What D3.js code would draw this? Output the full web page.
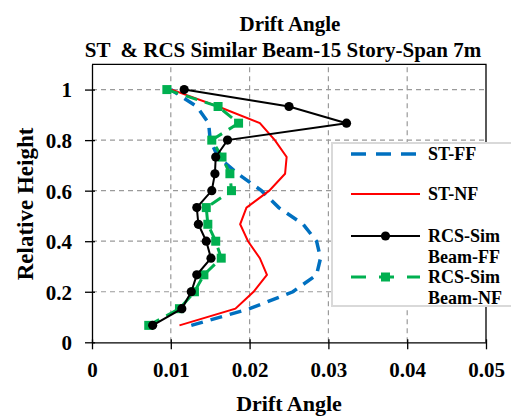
<!DOCTYPE html>
<html><head><meta charset="utf-8">
<script src="https://cdn.jsdelivr.net/npm/d3@7"></script>
<style>body{margin:0;background:#fff}svg{display:block}text{font-family:"Liberation Serif","Times New Roman",serif;font-weight:bold;fill:#000}</style>
</head><body>
<script>
const relHeight = [0.067,0.133,0.2,0.267,0.333,0.4,0.467,0.533,0.6,0.667,0.733,0.8,0.867,0.933,1.0];
const stFF  = [0.0126,0.0200,0.0255,0.0285,0.0290,0.0285,0.0268,0.0237,0.0215,0.0185,0.0160,0.0150,0.0148,0.0133,0.0100];
const stNF  = [0.0111,0.0182,0.0205,0.0222,0.0213,0.0198,0.0188,0.0196,0.0225,0.0245,0.0247,0.0232,0.0213,0.0160,0.0101];
const rcsFF = [0.0077,0.0114,0.0126,0.0133,0.0151,0.0145,0.0135,0.0133,0.0152,0.0156,0.0157,0.0172,0.0323,0.0250,0.0117];
const rcsNF = [0.0072,0.0111,0.0130,0.0142,0.0164,0.0157,0.0147,0.0145,0.0177,0.0175,0.0165,0.0152,0.0186,0.0160,0.0095];
const xTicks = [0,0.01,0.02,0.03,0.04,0.05];
const yTicks = [0,0.2,0.4,0.6,0.8,1];
const seriesNames = ["ST-FF","ST-NF","RCS-Sim Beam-FF","RCS-Sim Beam-NF"];

const W=511,H=417;
const svg=d3.select("body").append("svg").attr("width",W).attr("height",H);
const x=d3.scaleLinear().domain([0,0.05]).range([92,486]);
const y=d3.scaleLinear().domain([0,1.1]).range([342.3,64.3]);

// grid
svg.append("g").selectAll("line").data(xTicks.slice(1,-1)).join("line")
  .attr("x1",d=>x(d)).attr("x2",d=>x(d)).attr("y1",y(0)).attr("y2",y(1.1))
  .attr("stroke","#9a9a9a").attr("stroke-width",1.2).attr("stroke-dasharray","5,4");
svg.append("g").selectAll("line").data(yTicks.slice(1)).join("line")
  .attr("y1",d=>y(d)).attr("y2",d=>y(d)).attr("x1",x(0)).attr("x2",x(0.05))
  .attr("stroke","#9a9a9a").attr("stroke-width",1.2).attr("stroke-dasharray","5,4");
// frame top/right
svg.append("path").attr("d",`M${x(0)},${y(1.1)}H${x(0.05)}V${y(0)}`).attr("fill","none").attr("stroke","#000").attr("stroke-width",1.3);

// axes
const xa=svg.append("g").attr("transform",`translate(0,${y(0)})`)
  .call(d3.axisBottom(x).tickValues(xTicks).tickFormat(d=>d===0?"0":d3.format(".2f")(d)).tickSize(7).tickSizeOuter(0));
xa.selectAll(".tick line").attr("y1",-3);
xa.selectAll("text").attr("font-size",21).attr("dy",0).attr("y",35).attr("font-family",null);
const ya=svg.append("g").attr("transform",`translate(${x(0)},0)`)
  .call(d3.axisLeft(y).tickValues(yTicks).tickFormat(d=>d===0?"0":(d===1?"1":d3.format(".1f")(d))).tickSize(7).tickSizeOuter(0));
ya.selectAll(".tick line").attr("x1",3);
ya.selectAll("text").attr("font-size",21).attr("x",-20).attr("dy","0.35em").attr("font-family",null);
svg.selectAll(".domain").attr("stroke","#000").attr("stroke-width",1.3);
svg.selectAll(".tick line").attr("stroke","#000").attr("stroke-width",1.3);

// series
const line=d3.line().x(d=>x(d[0])).y(d=>y(d[1]));
const z=(arr)=>arr.map((v,i)=>[v,relHeight[i]]);
svg.append("path").datum(z(stFF)).attr("d",line).attr("fill","none").attr("stroke","#0070C0").attr("stroke-width",3.5).attr("stroke-dasharray","12,8");
svg.append("path").datum(z(stNF)).attr("d",line).attr("fill","none").attr("stroke","#FF0000").attr("stroke-width",2);
svg.append("path").datum(z(rcsNF)).attr("d",line).attr("fill","none").attr("stroke","#00B050").attr("stroke-width",3).attr("stroke-dasharray","12,8");
svg.append("g").selectAll("rect").data(z(rcsNF)).join("rect")
  .attr("x",d=>x(d[0])-4.5).attr("y",d=>y(d[1])-4.5).attr("width",9).attr("height",9).attr("fill","#00B050");
svg.append("path").datum(z(rcsFF)).attr("d",line).attr("fill","none").attr("stroke","#000").attr("stroke-width",2);
svg.append("g").selectAll("circle").data(z(rcsFF)).join("circle")
  .attr("cx",d=>x(d[0])).attr("cy",d=>y(d[1])).attr("r",4.6).attr("fill","#000");

// legend
const lg=svg.append("g");
lg.append("rect").attr("x",332).attr("y",143).attr("width",200).attr("height",163).attr("fill","#fff").attr("stroke","#d9d9d9").attr("stroke-width",2);
const lx1=351,lx2=420,tx=428;
const ly=[154,194,236,277];
lg.append("line").attr("x1",lx1).attr("x2",lx2).attr("y1",ly[0]).attr("y2",ly[0]).attr("stroke","#0070C0").attr("stroke-width",3.5).attr("stroke-dasharray","15,10");
lg.append("line").attr("x1",lx1).attr("x2",lx2).attr("y1",ly[1]).attr("y2",ly[1]).attr("stroke","#FF0000").attr("stroke-width",2);
lg.append("line").attr("x1",lx1).attr("x2",lx2).attr("y1",ly[2]).attr("y2",ly[2]).attr("stroke","#000").attr("stroke-width",2);
lg.append("circle").attr("cx",(lx1+lx2)/2).attr("cy",ly[2]).attr("r",4.6).attr("fill","#000");
lg.append("line").attr("x1",lx1).attr("x2",lx2).attr("y1",ly[3]).attr("y2",ly[3]).attr("stroke","#00B050").attr("stroke-width",3).attr("stroke-dasharray","15,13");
lg.append("rect").attr("x",(lx1+lx2)/2-4.5).attr("y",ly[3]-4.5).attr("width",9).attr("height",9).attr("fill","#00B050");
const ltext=[[seriesNames[0]],[seriesNames[1]],["RCS-Sim","Beam-FF"],["RCS-Sim","Beam-NF"]];
ltext.forEach((t,i)=>{t.forEach((s,j)=>{lg.append("text").attr("x",tx).attr("y",ly[i]+j*20.5).attr("dy","0.35em").attr("font-size",18).text(s);});});

// titles
svg.append("text").attr("x",290).attr("y",30.5).attr("text-anchor","middle").attr("font-size",21).text("Drift Angle");
svg.append("text").attr("x",283).attr("y",56.5).attr("text-anchor","middle").attr("font-size",21).style("white-space","pre").text("ST  & RCS Similar Beam-15 Story-Span 7m");
svg.append("text").attr("x",289).attr("y",411).attr("text-anchor","middle").attr("font-size",22).text("Drift Angle");
svg.append("text").attr("transform","translate(33,204) rotate(-90)").attr("text-anchor","middle").attr("font-size",23).text("Relative Height");
</script>
</body></html>
